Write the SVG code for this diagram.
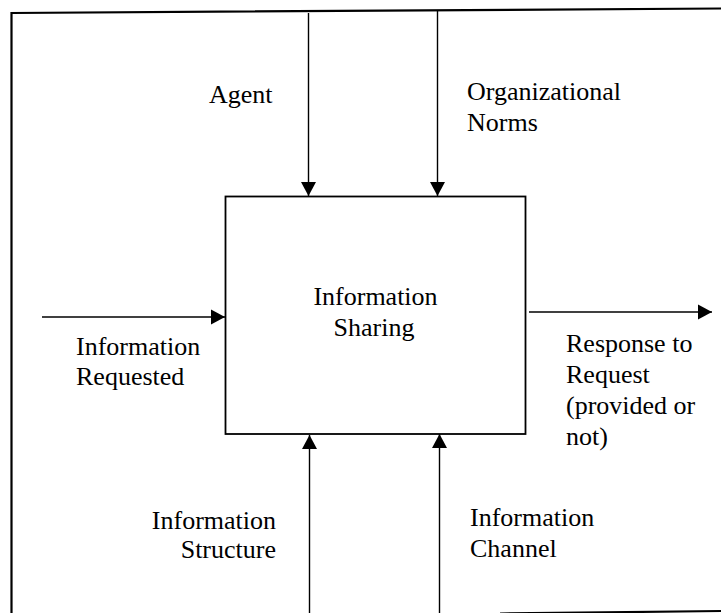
<svg xmlns="http://www.w3.org/2000/svg" width="721" height="613" viewBox="0 0 721 613">
  <style>
    .lbl { font-family: "Liberation Serif", "Times New Roman", serif; font-size: 26px; fill: #000; }
    .mid { text-anchor: middle; }
    .end { text-anchor: end; }
    .frame { fill: none; stroke: #000; stroke-width: 2.2; }
    .box { fill: #fff; stroke: #000; stroke-width: 1.8; }
    .flow { fill: none; stroke: #000; stroke-width: 1.4; marker-end: url(#head); }
  </style>
  <defs>
    <marker id="head" markerUnits="userSpaceOnUse" markerWidth="16" markerHeight="16" refX="14" refY="8" orient="auto">
      <path d="M0,0.5 L14,8 L0,15.5 Z" fill="#000"/>
    </marker>
  </defs>

  <rect width="721" height="613" fill="#fff"/>

  <!-- outer frame, slightly skewed and running off the right/bottom edge -->
  <path class="frame" d="M11.5,613 L11.5,13 L721,8.5"/>
  <path class="frame" d="M500,613.5 L721,611"/>

  <!-- connectors -->
  <g id="connectors">
    <line class="flow" x1="308.5" y1="13" x2="308.5" y2="196"/>
    <line class="flow" x1="437.5" y1="11" x2="437.5" y2="196"/>
    <line class="flow" x1="42" y1="317" x2="225" y2="317"/>
    <line class="flow" x1="529" y1="312" x2="712" y2="312"/>
    <line class="flow" x1="309.5" y1="613" x2="309.5" y2="435"/>
    <line class="flow" x1="439.5" y1="613" x2="439.5" y2="434"/>
  </g>

  <!-- central activity -->
  <g id="information-sharing">
    <rect class="box" x="225.5" y="196.5" width="300" height="237.5"/>
    <text class="lbl mid" x="375.5" y="305">Information</text>
    <text class="lbl mid" x="374" y="336">Sharing</text>
  </g>

  <g id="agent">
    <text class="lbl" x="209" y="103">Agent</text>
  </g>

  <g id="organizational-norms">
    <text class="lbl" x="467" y="100">Organizational</text>
    <text class="lbl" x="467" y="131">Norms</text>
  </g>

  <g id="information-requested">
    <text class="lbl" x="76" y="355">Information</text>
    <text class="lbl" x="76" y="385">Requested</text>
  </g>

  <g id="response-to-request">
    <text class="lbl" x="566" y="352">Response to</text>
    <text class="lbl" x="566" y="383">Request</text>
    <text class="lbl" x="566" y="414">(provided or</text>
    <text class="lbl" x="566" y="445">not)</text>
  </g>

  <g id="information-structure">
    <text class="lbl end" x="276" y="529">Information</text>
    <text class="lbl end" x="276" y="558">Structure</text>
  </g>

  <g id="information-channel">
    <text class="lbl" x="470" y="526">Information</text>
    <text class="lbl" x="470" y="557">Channel</text>
  </g>
</svg>
